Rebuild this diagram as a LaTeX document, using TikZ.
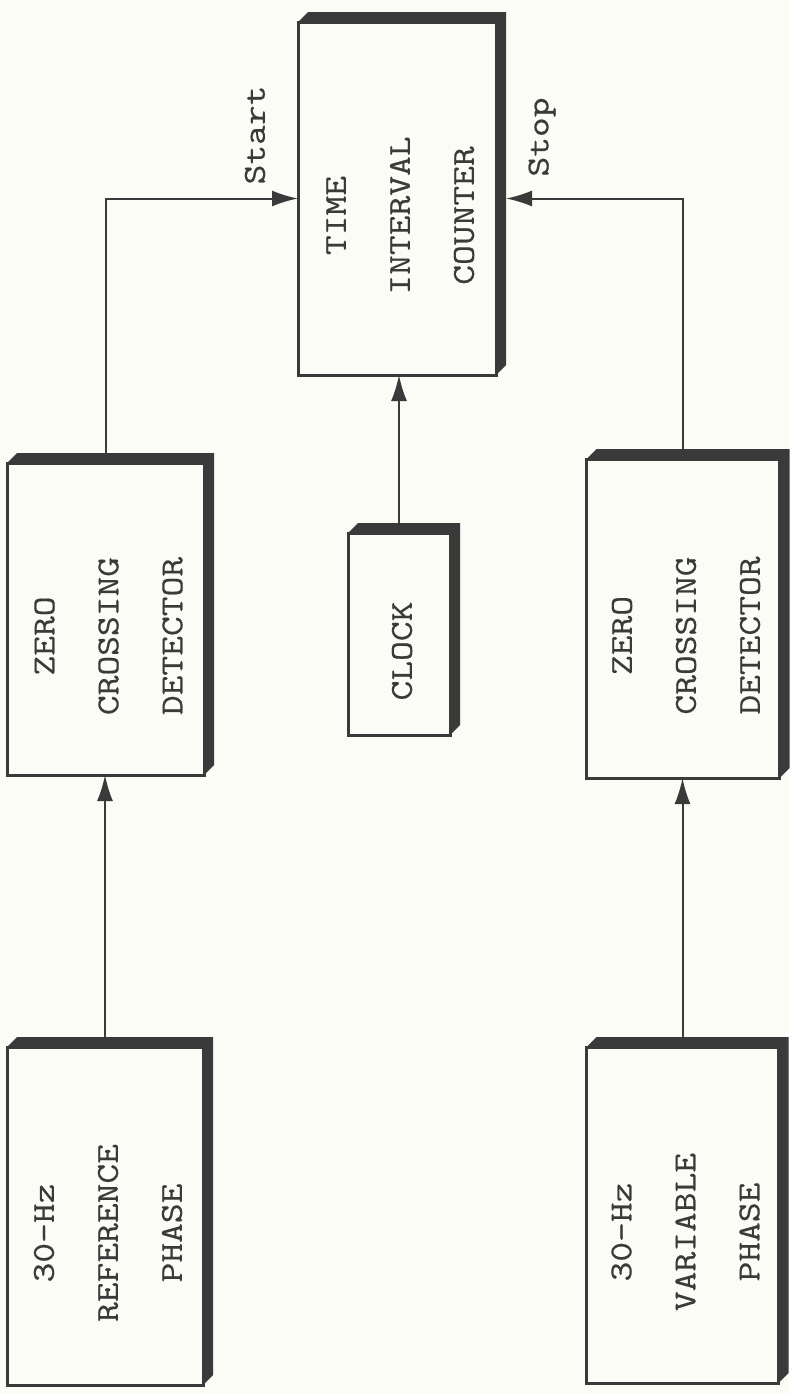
\documentclass[tikz,border=0pt]{standalone}
\usepackage{fontspec}
\newfontfamily\typer[FakeStretch=1.2,FakeBold=0.5]{Latin Modern Mono}
\usetikzlibrary{arrows.meta,calc,positioning}
\definecolor{paper}{RGB}{252,252,246}
\definecolor{ink}{RGB}{58,58,58}
\newcommand{\vlines}[1]{\rotatebox{90}{\begin{tabular}{@{}c@{}}#1\end{tabular}\hspace{17pt}}}

\begin{document}
\begin{tikzpicture}[x=0.5pt,y=-0.5pt,
  blk/.style={draw=ink,line width=1.5pt,fill=paper,inner sep=0pt,outer sep=0pt,
    text=ink,font=\typer\fontsize{16}{32}\selectfont},
  sig/.style={-{Latex[length=13pt,width=8pt]},line width=1pt,ink},
  lbl/.style={font=\typer\fontsize{16}{32}\selectfont,rotate=90,text=ink}
]
\fill[paper] (0,0) rectangle (789,1394);
\useasboundingbox (0,0) rectangle (789,1394);

\node[blk,minimum width=99pt,minimum height=176.5pt] (tic) at (397,198.5) {\vlines{TIME\\INTERVAL\\COUNTER}};
\node[blk,minimum width=98.5pt,minimum height=156pt] (zcdA) at (105.5,619) {\vlines{ZERO\\CROSSING\\DETECTOR}};
\node[blk,minimum width=96.5pt,minimum height=159.5pt] (zcdB) at (683,618.5) {\vlines{ZERO\\CROSSING\\DETECTOR}};
\node[blk,minimum width=51pt,minimum height=101pt] (clock) at (399,634) {\vlines{CLOCK}};
\node[blk,minimum width=98pt,minimum height=169pt] (refph) at (105,1216) {\vlines{30-Hz\\REFERENCE\\PHASE}};
\node[blk,minimum width=94.5pt,minimum height=168pt] (varph) at (682.5,1215) {\vlines{30-Hz\\VARIABLE\\PHASE}};

\node[lbl] (startlbl) at (255,135) {Start};
\node[lbl] (stoplbl) at (542,137) {Stop};

\draw[sig] (zcdA.north) |- (tic.west);
\draw[sig,shorten >=5pt] (zcdB.north) |- (tic.east);
\draw[sig] (clock.north) -- (clock.north |- tic.south);
\draw[sig] (refph.north) -- (refph.north |- zcdA.south);
\draw[sig] (varph.north) -- (varph.north |- zcdB.south);

\foreach \n in {tic,zcdA,zcdB,clock,refph,varph}
  \fill[ink] (\n.north west) -- ++(10,-10) -| ($(\n.south east)+(10,-10)$)
    -- (\n.south east) -- (\n.north east) -- cycle;
\end{tikzpicture}
\end{document}
